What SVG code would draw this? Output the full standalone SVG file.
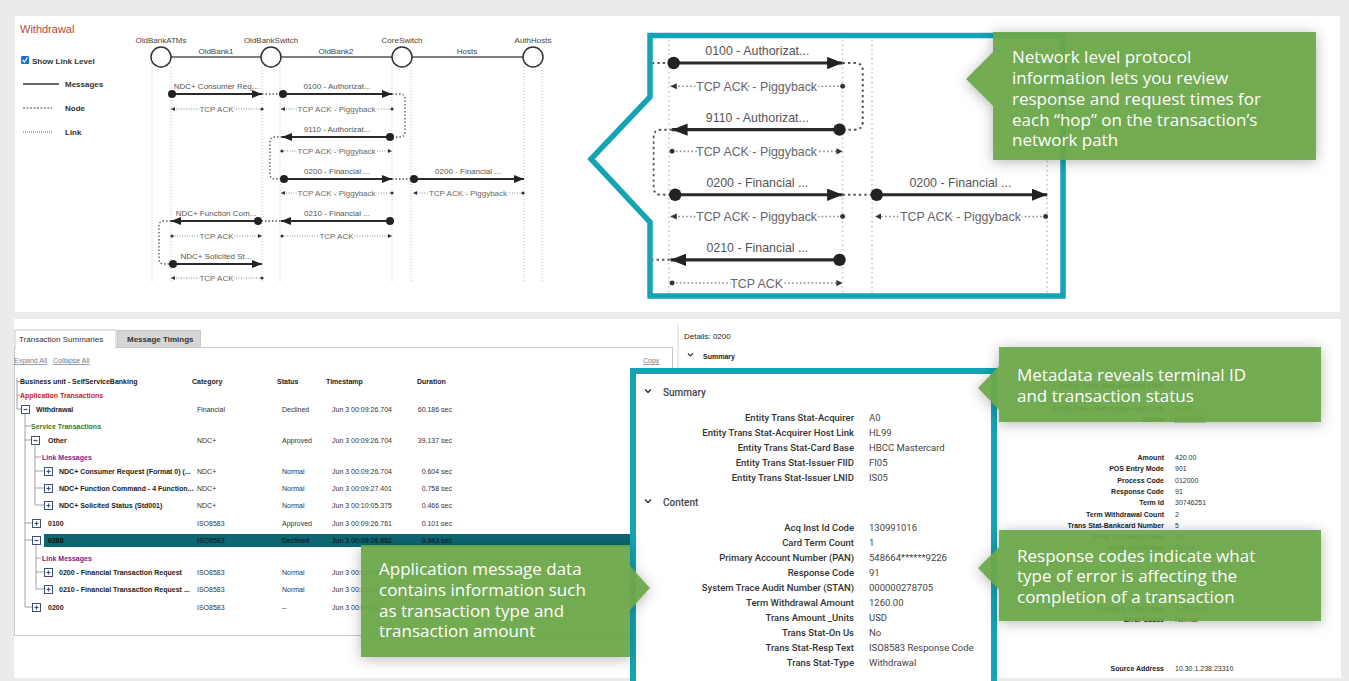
<svg xmlns="http://www.w3.org/2000/svg" xmlns:xlink="http://www.w3.org/1999/xlink" width="1349" height="681" viewBox="0 0 1349 681">
<style>
.life{stroke:#c4c4c4;stroke-width:1;stroke-dasharray:1 2;fill:none}
.msg{stroke:#2a2a2a;stroke-width:2;fill:none;marker-start:url(#mDot);marker-end:url(#mArrow)}
.nd{stroke:#555;stroke-width:1.3;stroke-dasharray:1.5 2;fill:none}
.ack{stroke:#8a8a8a;stroke-width:1;stroke-dasharray:1 1.5;fill:none;marker-start:url(#aDot);marker-end:url(#aArrow)}
.ml{font-family:'Liberation Sans',Arial,sans-serif;font-size:8px;fill:#555;text-anchor:middle}
.al{font-family:'Liberation Sans',Arial,sans-serif;font-size:8px;fill:#666;text-anchor:middle;stroke:#fff;stroke-width:3;paint-order:stroke}
.nl{font-family:'Liberation Sans',Arial,sans-serif;font-size:8px;fill:#444;text-anchor:middle}
.head{fill:#fff;stroke:#333;stroke-width:1.5}
.lg{font-family:'Liberation Sans',Arial,sans-serif;font-size:8px;font-weight:bold;fill:#333}
.gt{font-family:'Open Sans',sans-serif;font-size:17px;fill:#fff}
.gbox{fill:#6aa849;fill-opacity:0.93;filter:url(#sh)}
.th{font-family:'Liberation Sans',Arial,sans-serif;font-size:7px;font-weight:bold;fill:#222}
.tn{font-family:'Liberation Sans',Arial,sans-serif;font-size:7px;font-weight:bold;fill:#222}
.td{font-family:'Liberation Sans',Arial,sans-serif;font-size:7px;fill:#333}
.tr{font-family:'Liberation Sans',Arial,sans-serif;font-size:7px;fill:#333;text-anchor:end}
.tree{stroke:#8a8a8a;stroke-width:0.8;fill:none}
.dk{font-family:Roboto,'Liberation Sans',sans-serif;font-size:9.5px;font-weight:500;fill:#333;text-anchor:end}
.dv{font-family:Roboto,'Liberation Sans',sans-serif;font-size:9.5px;fill:#444}
.rk{font-family:'Liberation Sans',Arial,sans-serif;font-size:7px;font-weight:bold;fill:#222;text-anchor:end}
.rv{font-family:'Liberation Sans',Arial,sans-serif;font-size:7px;fill:#333}
.lnk{font-family:'Liberation Sans',Arial,sans-serif;font-size:7px;fill:#6d7c8c;text-decoration:underline}
</style>
<defs>
<marker id="mArrow" viewBox="0 0 10 8" refX="10" refY="4" markerWidth="10" markerHeight="8" markerUnits="userSpaceOnUse" orient="auto"><path d="M0,0 L10,4 L0,8 z" fill="#222"/></marker>
<marker id="mDot" viewBox="-5 -5 10 10" refX="0" refY="0" markerWidth="10" markerHeight="10" markerUnits="userSpaceOnUse"><circle r="4" fill="#222"/></marker>
<marker id="aArrow" viewBox="0 0 4 4" refX="4" refY="2" markerWidth="4" markerHeight="4" markerUnits="userSpaceOnUse" orient="auto"><path d="M0,0 L4,2 L0,4 z" fill="#333"/></marker>
<marker id="aDot" viewBox="-2 -2 4 4" refX="0" refY="0" markerWidth="4" markerHeight="4" markerUnits="userSpaceOnUse"><circle r="1.6" fill="#333"/></marker>
<filter id="sh" x="-20%" y="-30%" width="140%" height="160%"><feDropShadow dx="0" dy="2" stdDeviation="7" flood-color="#000" flood-opacity="0.3"/></filter>
<clipPath id="cp1"><rect x="652.5" y="38" width="408" height="256"/></clipPath>
<g id="bm"><rect x="0.5" y="0.5" width="8" height="8" fill="#fff" stroke="#3d4f7c" stroke-width="1"/><path d="M2.5,4.5H6.5" stroke="#3d4f7c" stroke-width="1.2"/></g>
<g id="bp"><rect x="0.5" y="0.5" width="8" height="8" fill="#fff" stroke="#3d4f7c" stroke-width="1"/><path d="M2.5,4.5H6.5M4.5,2.5V6.5" stroke="#3d4f7c" stroke-width="1.2"/></g>
</defs>

<rect width="1349" height="681" fill="#ebebeb"/>
<rect x="15" y="16" width="1325" height="296" fill="#fff"/>
<rect x="14" y="319" width="1327" height="359" fill="#fff"/>

<!-- Top-left header and legend -->
<g id="title"><text x="20" y="33" font-family="'Liberation Sans',Arial,sans-serif" font-size="11" fill="#b5473a">Withdrawal</text></g>
<g id="legend">
<rect x="21" y="56" width="8" height="8" rx="1" fill="#1a6fd6"/>
<path d="M22.5,60 L24.5,62 L27.5,57.5" stroke="#fff" stroke-width="1.3" fill="none"/>
<text x="32" y="63.5" class="lg" font-weight="normal">Show Link Level</text>
<line x1="23" y1="84" x2="59" y2="84" stroke="#333" stroke-width="1.5"/>
<text x="65" y="87" class="lg">Messages</text>
<line x1="23" y1="108" x2="52" y2="108" stroke="#444" stroke-width="1.2" stroke-dasharray="2 1.5"/>
<text x="65" y="111" class="lg">Node</text>
<line x1="23" y1="132" x2="52" y2="132" stroke="#666" stroke-width="1" stroke-dasharray="1 1"/>
<text x="65" y="135" class="lg">Link</text>
</g>

<!-- Sequence diagram nodes -->
<g id="links">
<line x1="171" y1="57" x2="261" y2="57" stroke="#555" stroke-width="1.5"/>
<line x1="281" y1="57" x2="392" y2="57" stroke="#555" stroke-width="1.5"/>
<line x1="412" y1="57" x2="523" y2="57" stroke="#555" stroke-width="1.5"/>
<text x="216" y="54" class="nl">OldBank1</text>
<text x="336" y="54" class="nl">OldBank2</text>
<text x="467" y="54" class="nl">Hosts</text>
</g>
<g id="node-OldBankATMs"><circle cx="161" cy="57" r="10" class="head"/><text x="161" y="43" class="nl">OldBankATMs</text></g>
<g id="node-OldBankSwitch"><circle cx="271" cy="57" r="10" class="head"/><text x="271" y="43" class="nl">OldBankSwitch</text></g>
<g id="node-CoreSwitch"><circle cx="402" cy="57" r="10" class="head"/><text x="402" y="43" class="nl">CoreSwitch</text></g>
<g id="node-AuthHosts"><circle cx="533" cy="57" r="10" class="head"/><text x="533" y="43" class="nl">AuthHosts</text></g>

<g id="seq-body">
<g id="lifelines">
<path class="life" d="M152,67V282M171,67V282M262,67V282M280,67V282M392,67V282M411,67V282M524,67V282M542,67V282"/>
</g>
<g id="connectors">
<path class="nd" d="M262,94H283"/>
<path class="nd" d="M392,94H400Q405,94 405,99V132Q405,137 400,137H390"/>
<path class="nd" d="M282,137H275Q270,137 270,142V174Q270,179 275,179H284"/>
<path class="nd" d="M392,179H414"/>
<path class="nd" d="M258,221H281"/>
<path class="nd" d="M171,221H164Q159,221 159,226V259Q159,264 164,264H173"/>

<path class="msg" d="M172,94H262"/>
<path class="msg" d="M283,94H392"/>
<path class="msg" d="M390,137H282"/>
<path class="msg" d="M284,179H392"/>
<path class="msg" d="M414,179H524"/>
<path class="msg" d="M390,221H281"/>
<path class="msg" d="M258,221H171"/>
<path class="msg" d="M173,264H262"/>
<text x="216" y="89" class="ml">NDC+ Consumer Req...</text>
<text x="337" y="89" class="ml">0100 - Authorizat...</text>
<text x="337" y="132" class="ml">9110 - Authorizat...</text>
<text x="337" y="174" class="ml">0200 - Financial ...</text>
<text x="468" y="174" class="ml">0200 - Financial ...</text>
<text x="337" y="216" class="ml">0210 - Financial ...</text>
<text x="216" y="216" class="ml">NDC+ Function Com...</text>
<text x="216" y="259" class="ml">NDC+ Solicited St...</text>

<path class="ack" d="M262,109H171"/><text x="216.5" y="112" class="al">TCP ACK</text>
<path class="ack" d="M392,109H281"/><text x="336.5" y="112" class="al">TCP ACK - Piggyback</text>
<path class="ack" d="M282,151H392"/><text x="336.5" y="154" class="al">TCP ACK - Piggyback</text>
<path class="ack" d="M392,193H281"/><text x="336.5" y="196" class="al">TCP ACK - Piggyback</text>
<path class="ack" d="M523,193H413"/><text x="468" y="196" class="al">TCP ACK - Piggyback</text>
<path class="ack" d="M172,236H262"/><text x="216.5" y="239" class="al">TCP ACK</text>
<path class="ack" d="M282,236H392"/><text x="336.5" y="239" class="al">TCP ACK</text>
<path class="ack" d="M262,278H171"/><text x="216.5" y="281" class="al">TCP ACK</text>
</g>
</g>

<!-- Callout 1: zoomed network view -->
<g id="callout-zoom">
<path d="M650,35.5H1063V296H650V222L591,159L650,97Z" fill="#fff" stroke="#14a4b4" stroke-width="5.5"/>
<g clip-path="url(#cp1)"><use xlink:href="#seq-body" href="#seq-body" transform="translate(235,-82.7) scale(1.55)"/></g>
</g>

<g id="note-network">
<path class="gbox" d="M993,32H1316V160H993V106L966,79L993,52Z"/>
<text class="gt" x="1012" y="63">Network level protocol</text>
<text class="gt" x="1012" y="84">information lets you review</text>
<text class="gt" x="1012" y="105">response and request times for</text>
<text class="gt" x="1012" y="126">each “hop” on the transaction’s</text>
<text class="gt" x="1012" y="146">network path</text>
</g>

<!-- Bottom left: transaction table -->
<g id="table-panel">
<rect x="14.5" y="347.5" width="658" height="288" fill="#fff" stroke="#c8c8c8"/>
<rect x="15" y="330" width="101" height="18" fill="#fff" stroke="#c8c8c8"/>
<rect x="16" y="346" width="99" height="3" fill="#fff"/>
<rect x="117.5" y="330.5" width="83" height="17" fill="#d6d6d6" stroke="#c8c8c8"/>
<text x="19" y="342" font-family="'Liberation Sans',Arial,sans-serif" font-size="8" fill="#333">Transaction Summaries</text>
<text x="127" y="342" font-family="'Liberation Sans',Arial,sans-serif" font-size="8" font-weight="bold" fill="#333">Message Timings</text>
<text x="14" y="363" class="lnk">Expand All</text>
<text x="53" y="363" class="lnk">Collapse All</text>
<text x="643" y="363" class="lnk">Copy</text>

<rect x="44" y="534" width="586" height="13" fill="#0d6670"/>

<path class="tree" d="M17,378V409M17,381.5H20M17,395H20M17,409H21M25,413V607M25,426H31M25,440H31M25,523H32M25,540H32M25,607H32M35,444V505M35,457H41M35,471H44M35,488H44M35,505H44M36,544V589M36,558H41M36,572H44M36,589H44"/>
<use xlink:href="#bm" href="#bm" x="21" y="405"/>
<use xlink:href="#bm" href="#bm" x="31" y="436"/>
<use xlink:href="#bp" href="#bp" x="44" y="467"/>
<use xlink:href="#bp" href="#bp" x="44" y="484"/>
<use xlink:href="#bp" href="#bp" x="44" y="501"/>
<use xlink:href="#bp" href="#bp" x="32" y="519"/>
<use xlink:href="#bm" href="#bm" x="32" y="536"/>
<use xlink:href="#bp" href="#bp" x="44" y="568"/>
<use xlink:href="#bp" href="#bp" x="44" y="585"/>
<use xlink:href="#bp" href="#bp" x="32" y="603"/>

<text class="th" x="20" y="384">Business unit - SelfServiceBanking</text>
<text class="th" x="192" y="384">Category</text>
<text class="th" x="277" y="384">Status</text>
<text class="th" x="326" y="384">Timestamp</text>
<text class="th" x="417" y="384">Duration</text>

<text class="tn" x="20" y="397.5" style="fill:#c0281c">Application Transactions</text>
<text class="tn" x="36" y="411.5">Withdrawal</text><text class="td" x="197" y="411.5">Financial</text><text class="td" x="282" y="411.5">Declined</text><text class="td" x="332" y="411.5">Jun 3 00:09:26.704</text><text class="tr" x="452" y="411.5">60.186 sec</text>
<text class="tn" x="31" y="428.5" style="fill:#3b7a18">Service Transactions</text>
<text class="tn" x="48" y="442.5">Other</text><text class="td" x="197" y="442.5">NDC+</text><text class="td" x="282" y="442.5">Approved</text><text class="td" x="332" y="442.5">Jun 3 00:09:26.704</text><text class="tr" x="452" y="442.5">39.137 sec</text>
<text class="tn" x="42" y="459.5" style="fill:#7a2395">Link Messages</text>
<text class="tn" x="59" y="473.5">NDC+ Consumer Request (Format 0) (...</text><text class="td" x="197" y="473.5">NDC+</text><text class="td" x="282" y="473.5">Normal</text><text class="td" x="332" y="473.5">Jun 3 00:09:26.704</text><text class="tr" x="452" y="473.5">0.604 sec</text>
<text class="tn" x="59" y="490.5">NDC+ Function Command - 4 Function...</text><text class="td" x="197" y="490.5">NDC+</text><text class="td" x="282" y="490.5">Normal</text><text class="td" x="332" y="490.5">Jun 3 00:09:27.401</text><text class="tr" x="452" y="490.5">0.758 sec</text>
<text class="tn" x="59" y="507.5">NDC+ Solicited Status (Std001)</text><text class="td" x="197" y="507.5">NDC+</text><text class="td" x="282" y="507.5">Normal</text><text class="td" x="332" y="507.5">Jun 3 00:10:05.375</text><text class="tr" x="452" y="507.5">0.466 sec</text>
<text class="tn" x="48" y="525.5">0100</text><text class="td" x="197" y="525.5">ISO8583</text><text class="td" x="282" y="525.5">Approved</text><text class="td" x="332" y="525.5">Jun 3 00:09:26.761</text><text class="tr" x="452" y="525.5">0.101 sec</text>
<text class="tn" x="48" y="542.5" style="fill:#0a0a0a">0200</text><text class="td" x="197" y="542.5" style="fill:#111">ISO8583</text><text class="td" x="282" y="542.5" style="fill:#111">Declined</text><text class="td" x="332" y="542.5" style="fill:#111">Jun 3 00:09:26.862</text><text class="tr" x="452" y="542.5" style="fill:#111">0.943 sec</text>
<text class="tn" x="42" y="560.5" style="fill:#7a2395">Link Messages</text>
<text class="tn" x="59" y="574.5">0200 - Financial Transaction Request</text><text class="td" x="197" y="574.5">ISO8583</text><text class="td" x="282" y="574.5">Normal</text><text class="td" x="332" y="574.5">Jun 3 00:09:26.9</text>
<text class="tn" x="59" y="591.5">0210 - Financial Transaction Request ...</text><text class="td" x="197" y="591.5">ISO8583</text><text class="td" x="282" y="591.5">Normal</text><text class="td" x="332" y="591.5">Jun 3 00:09:27.</text>
<text class="tn" x="48" y="609.5">0200</text><text class="td" x="197" y="609.5">ISO8583</text><text class="td" x="282" y="609.5">--</text><text class="td" x="332" y="609.5">Jun 3 00:09:26.</text>
</g>

<!-- Bottom right: details panel -->
<g id="details-panel">
<line x1="678" y1="325" x2="678" y2="678" stroke="#d8d8d8"/>
<text x="684" y="339" font-family="'Liberation Sans',Arial,sans-serif" font-size="8" fill="#222">Details: 0200</text>
<path d="M688,353.5l2.5,2.5l2.5,-2.5" stroke="#333" stroke-width="1.2" fill="none"/>
<text x="703" y="359" font-family="'Liberation Sans',Arial,sans-serif" font-size="7" font-weight="bold" fill="#222">Summary</text>

<text class="rk" x="1164" y="387.5">Entity Trans Stat-Acquirer LNID</text><text class="rv" x="1175" y="387.5">IS00</text>
<text class="rk" x="1164" y="410.5">Entity Trans Stat-Issuer Host Link</text><text class="rv" x="1175" y="410.5">HL05</text>
<text class="rk" x="1164" y="421.5">Status</text><rect x="1174" y="415" width="32" height="8" fill="#d0d0d0"/><text class="rv" x="1175" y="421.5">Declined</text>
<text class="rk" x="1164" y="459.5">Amount</text><text class="rv" x="1175" y="459.5">420.00</text>
<text class="rk" x="1164" y="470.5">POS Entry Mode</text><text class="rv" x="1175" y="470.5">901</text>
<text class="rk" x="1164" y="482.5">Process Code</text><text class="rv" x="1175" y="482.5">012000</text>
<text class="rk" x="1164" y="493.5">Response Code</text><text class="rv" x="1175" y="493.5">91</text>
<text class="rk" x="1164" y="504.5">Term Id</text><text class="rv" x="1175" y="504.5">30746251</text>
<text class="rk" x="1164" y="516.5">Term Withdrawal Count</text><text class="rv" x="1175" y="516.5">2</text>
<text class="rk" x="1164" y="527.5">Trans Stat-Bankcard Number</text><text class="rv" x="1175" y="527.5">5</text>
<text class="rk" x="1164" y="538.5">Trans Stat-Resp Code</text><text class="rv" x="1175" y="538.5">91</text>
<text class="rk" x="1164" y="549.5">Trans Stat-Status</text><text class="rv" x="1175" y="549.5">Denial</text>
<text class="rk" x="1164" y="610.5">Network Total Delay</text><text class="rv" x="1175" y="610.5">0.380 sec</text>
<text class="rk" x="1164" y="621.5">Error Cause</text><text class="rv" x="1175" y="621.5">Normal</text>
<text class="rk" x="1164" y="670.5">Source Address</text><text class="rv" x="1175" y="670.5">10.30.1.238:23310</text>
</g>

<!-- Callout 2: metadata detail box -->
<g id="callout-details">
<rect x="633" y="371" width="361" height="330" fill="#fff" stroke="#14a4b4" stroke-width="6"/>
<path d="M645,389.5l3,3l3,-3" stroke="#333" stroke-width="1.5" fill="none"/>
<text x="663" y="395.5" font-family="Roboto,'Liberation Sans',sans-serif" font-size="10" font-weight="500" fill="#444">Summary</text>
<text class="dk" x="854" y="420.5">Entity Trans Stat-Acquirer</text><text class="dv" x="869" y="420.5">A0</text>
<text class="dk" x="854" y="435.5">Entity Trans Stat-Acquirer Host Link</text><text class="dv" x="869" y="435.5">HL99</text>
<text class="dk" x="854" y="450.5">Entity Trans Stat-Card Base</text><text class="dv" x="869" y="450.5">HBCC Mastercard</text>
<text class="dk" x="854" y="465.5">Entity Trans Stat-Issuer FIID</text><text class="dv" x="869" y="465.5">FI05</text>
<text class="dk" x="854" y="480.5">Entity Trans Stat-Issuer LNID</text><text class="dv" x="869" y="480.5">IS05</text>
<path d="M645,499.5l3,3l3,-3" stroke="#333" stroke-width="1.5" fill="none"/>
<text x="663" y="505.5" font-family="Roboto,'Liberation Sans',sans-serif" font-size="10" font-weight="500" fill="#444">Content</text>
<text class="dk" x="854" y="530.5">Acq Inst Id Code</text><text class="dv" x="869" y="530.5">130991016</text>
<text class="dk" x="854" y="545.5">Card Term Count</text><text class="dv" x="869" y="545.5">1</text>
<text class="dk" x="854" y="560.5">Primary Account Number (PAN)</text><text class="dv" x="869" y="560.5">548664******9226</text>
<text class="dk" x="854" y="575.5">Response Code</text><text class="dv" x="869" y="575.5">91</text>
<text class="dk" x="854" y="590.5">System Trace Audit Number (STAN)</text><text class="dv" x="869" y="590.5">000000278705</text>
<text class="dk" x="854" y="605.5">Term Withdrawal Amount</text><text class="dv" x="869" y="605.5">1260.00</text>
<text class="dk" x="854" y="620.5">Trans Amount _Units</text><text class="dv" x="869" y="620.5">USD</text>
<text class="dk" x="854" y="635.5">Trans Stat-On Us</text><text class="dv" x="869" y="635.5">No</text>
<text class="dk" x="854" y="650.5">Trans Stat-Resp Text</text><text class="dv" x="869" y="650.5">ISO8583 Response Code</text>
<text class="dk" x="854" y="665.5">Trans Stat-Type</text><text class="dv" x="869" y="665.5">Withdrawal</text>
</g>

<g id="note-metadata">
<path class="gbox" d="M999,347H1321V422H999V410L978,388L999,366Z"/>
<text class="gt" x="1017" y="381">Metadata reveals terminal ID</text>
<text class="gt" x="1017" y="402">and transaction status</text>
</g>

<g id="note-response">
<path class="gbox" d="M999,530H1321V621H999V590L978,568L999,547Z"/>
<text class="gt" x="1017" y="562">Response codes indicate what</text>
<text class="gt" x="1017" y="582">type of error is affecting the</text>
<text class="gt" x="1017" y="603">completion of a transaction</text>
</g>

<g id="note-application">
<path class="gbox" d="M361,545H630V566L650,588L630,610V657H361Z"/>
<text class="gt" x="379" y="575">Application message data</text>
<text class="gt" x="379" y="596">contains information such</text>
<text class="gt" x="379" y="617">as transaction type and</text>
<text class="gt" x="379" y="637">transaction amount</text>
</g>
</svg>
